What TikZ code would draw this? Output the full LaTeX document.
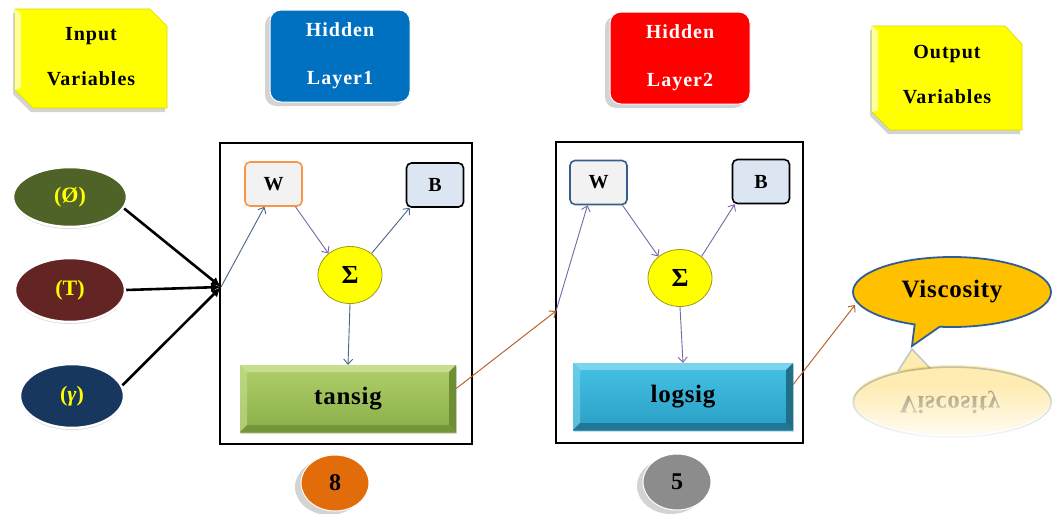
\documentclass[tikz,border=0pt]{standalone}
\usepackage{fontspec}
\setmainfont{Liberation Serif}
\newfontfamily\spacedfont[LetterSpace=5]{Liberation Serif}
\newfontfamily\lspacedfont[LetterSpace=3]{Liberation Serif}
\usetikzlibrary{shapes.geometric,shapes.callouts,arrows.meta,shadows,fadings,calc}
\definecolor{ylw}{HTML}{FFFF00}
\definecolor{ylwlight}{HTML}{FFFF99}
\definecolor{ylwdark}{HTML}{D9D900}
\definecolor{hblue}{HTML}{0070C0}
\definecolor{hred}{HTML}{FF0000}
\definecolor{egreen}{HTML}{4F6228}
\definecolor{ered}{HTML}{632523}
\definecolor{eblue}{HTML}{17375E}
\definecolor{wfill}{HTML}{F2F2F2}
\definecolor{bfill}{HTML}{DCE6F2}
\definecolor{worange}{HTML}{F79646}
\definecolor{wblue}{HTML}{385D8A}
\definecolor{sumbd}{HTML}{9B9B1E}
\definecolor{arrblue}{HTML}{4A6486}
\definecolor{arrpurp}{HTML}{7A64A6}
\definecolor{arrbrown}{HTML}{B8642E}
\definecolor{visfill}{HTML}{FFC000}
\definecolor{visbd}{HTML}{2F5E94}
\definecolor{gtop}{HTML}{B0D06A}
\definecolor{gbot}{HTML}{8AAE48}
\definecolor{glight}{HTML}{C6DE8E}
\definecolor{gdark}{HTML}{6E8E34}
\definecolor{ctop}{HTML}{45C2E6}
\definecolor{cbot}{HTML}{2A9EC4}
\definecolor{clight}{HTML}{7AD4EE}
\definecolor{cdark}{HTML}{1F6E8A}
\definecolor{borange}{HTML}{E36C0A}
\definecolor{bgray}{HTML}{8C8C8C}
\newcommand\mybevel[2]{%
 \fill[#1] (path picture bounding box.north west) -- (path picture bounding box.north east)
   -- ([shift={(-7pt,-7pt)}]path picture bounding box.north east) -- ([shift={(7pt,-7pt)}]path picture bounding box.north west) -- cycle;
 \fill[#1,opacity=.6] (path picture bounding box.north west) -- (path picture bounding box.south west)
   -- ([shift={(7pt,7pt)}]path picture bounding box.south west) -- ([shift={(7pt,-7pt)}]path picture bounding box.north west) -- cycle;
 \fill[#2] (path picture bounding box.north east) -- (path picture bounding box.south east)
   -- ([shift={(-7pt,7pt)}]path picture bounding box.south east) -- ([shift={(-7pt,-7pt)}]path picture bounding box.north east) -- cycle;
 \fill[#2,opacity=.8] (path picture bounding box.south west) -- (path picture bounding box.south east)
   -- ([shift={(-7pt,7pt)}]path picture bounding box.south east) -- ([shift={(7pt,7pt)}]path picture bounding box.south west) -- cycle;
}
\tikzset{
  yshape/.style={fill=ylw, draw=ylwdark, line width=.6pt,
    drop shadow={shadow xshift=-2pt, shadow yshift=-4pt, opacity=.35}},
  ytext/.style={rectangle, align=center, font=\fontsize{20}{45}\spacedfont\bfseries},
  hbox/.style={rectangle, rounded corners=11pt, minimum width=140pt, minimum height=92pt, align=center,
    text=white, draw=white, line width=1pt, font=\fontsize{20}{48}\spacedfont\bfseries,
    drop shadow={shadow xshift=-5pt, shadow yshift=-4pt, opacity=.35}},
  inp/.style={ellipse, draw=white, line width=2.5pt, text=ylw, font=\fontsize{22}{22}\selectfont\bfseries,
    drop shadow={shadow xshift=0pt, shadow yshift=-2pt, opacity=.3}},
  layer/.style={draw=black, line width=2pt, rectangle},
  wbox/.style={rectangle, rounded corners=5pt, line width=1.6pt, fill=wfill, minimum width=57pt, minimum height=44pt,
    font=\fontsize{20}{20}\selectfont\bfseries},
  bbox/.style={rectangle, rounded corners=5pt, line width=1.6pt, draw=black, fill=bfill, minimum width=57pt, minimum height=44pt,
    font=\fontsize{20}{20}\selectfont\bfseries},
  sumnode/.style={ellipse, draw=sumbd, line width=.8pt, fill=ylw, minimum width=64pt, minimum height=57pt,
    font=\fontsize{26}{26}\selectfont\bfseries},
  bevelbox/.style n args={4}{rectangle, minimum width=216pt, minimum height=67pt, top color=#1, bottom color=#2,
    path picture={\mybevel{#3}{#4}}, font=\fontsize{25}{25}\lspacedfont\bfseries,
    drop shadow={shadow xshift=1pt, shadow yshift=-2pt, opacity=.3}},
  bigarrow/.style={draw=black, line width=2.6pt, -{Latex[length=10pt,width=9pt]}},
  thinarrow/.style={line width=.9pt, -{Straight Barb[length=5pt,width=9pt]}},
  brownarrow/.style={draw=arrbrown, line width=1pt, -{Straight Barb[length=5pt,width=9pt]}},
  bubble/.style={ellipse, draw=white, line width=1pt, minimum width=68pt, minimum height=56pt,
    font=\fontsize{24}{24}\selectfont\bfseries,
    drop shadow={shadow xshift=-6pt, shadow yshift=-4pt, opacity=.35}},
  viscall/.style={ellipse callout, draw=visbd, line width=1.8pt, fill=visfill, minimum width=198pt, minimum height=70pt,
    font=\fontsize{25}{25}\lspacedfont\bfseries}
}
\begin{document}
\begin{tikzpicture}[x=1pt,y=-1pt]
\useasboundingbox (0,0) rectangle (1053,514);

% header boxes
\path[yshape] (15,9) -- (150,9) -- (167,26) -- (167,108) -- (33,108) -- (15,90) -- cycle;
\fill[ylwlight] (15,9) -- (21,14) -- (21,88) -- (15,90) -- cycle;
\node[ytext] (inbox) at (91,57) {Input\\Variables};
\node[hbox, fill=hblue] (hl1) at (340,56) {Hidden\\Layer1};
\node[hbox, fill=hred] (hl2) at (680,58) {Hidden\\Layer2};
\path[yshape] (872,26) -- (1005,26) -- (1022,44) -- (1022,130) -- (890,130) -- (872,112) -- cycle;
\fill[ylwlight] (872,26) -- (878,31) -- (878,110) -- (872,112) -- cycle;
\node[ytext] (outbox) at (947,75) {Output\\Variables};

% input ellipses
\node[inp, fill=egreen, minimum width=114pt, minimum height=60pt] (e1) at (70,197) {(Ø)};
\node[inp, fill=ered, minimum width=110pt, minimum height=64pt] (e2) at (70,290) {(T)};
\node[inp, fill=eblue, minimum width=104pt, minimum height=64pt] (e3) at (72,396) {(\textit{γ})};

% layer frames
\node[layer, minimum width=252pt, minimum height=301pt] (h1) at (346,293) {};
\node[layer, minimum width=247pt, minimum height=301pt] (h2) at (679.5,292.5) {};
\coordinate (conv) at (221,287);
\coordinate (conv2) at (556,311);

% layer 1 content
\node[wbox, draw=worange] (w1) at (273.5,184) {W};
\node[bbox] (b1) at (435,185) {B};
\node[sumnode] (s1) at (350,275) {Σ};
\node[bevelbox={gtop}{gbot}{glight}{gdark}] (ts) at (348,398.5) {tansig};

% layer 2 content
\node[wbox, draw=wblue] (w2) at (598.5,182.5) {W};
\node[bbox] (b2) at (761,181.5) {B};
\node[sumnode] (s2) at (680,278) {Σ};
\node[bevelbox={ctop}{cbot}{clight}{cdark}, minimum width=220pt] (ls) at (683,396.5) {logsig};

% output callout and its reflection
\fill[visfill, opacity=.3] (952,400) ellipse [x radius=99, y radius=35];
\fill[visfill, opacity=.3] (898,372) -- (912,349) -- (930,369) -- cycle;
\draw[visbd, opacity=.3, line width=1.6pt] (898,371) -- (912,349) -- (930,368);
\draw[visbd, opacity=.3, line width=1.6pt] (930,368) arc [start angle=-103, end angle=257, x radius=99, y radius=35];
\node[yscale=-1, opacity=.35, font=\fontsize{25}{25}\lspacedfont\bfseries] (visr) at (950,402) {Viscosity};
\fill[white, path fading=north] (842,385) rectangle (1053,447);
\node[viscall, callout absolute pointer={(912,346)}] (vis) at (952,292) {Viscosity};
\coordinate (vtip) at (855,305);

% neuron count bubbles
\node[bubble, fill=borange] (n8) at (335,483) {8};
\node[bubble, fill=bgray] (n5) at (677,482) {5};

% connectors
\draw[bigarrow] (e1.-12) -- (conv);
\draw[bigarrow] (e2.east) -- (conv);
\draw[bigarrow] (e3.12) -- (conv);
\draw[thinarrow, draw=arrblue] (conv) -- ([xshift=-9pt]w1.south);
\draw[thinarrow, draw=arrpurp] ([xshift=22pt]w1.south) -- (s1.135);
\draw[thinarrow, draw=arrblue] (s1.45) -- ([xshift=4pt]b1.south west);
\draw[thinarrow, draw=arrblue] (s1.south) -- (ts.north);
\draw[brownarrow] ([yshift=10pt]ts.east) -- (conv2);
\draw[thinarrow, draw=arrpurp] (conv2) -- ([xshift=-11pt]w2.south);
\draw[thinarrow, draw=arrpurp] ([xshift=24pt]w2.south) -- (s2.135);
\draw[thinarrow, draw=arrpurp] (s2.45) -- ([xshift=3pt]b2.south west);
\draw[thinarrow, draw=arrpurp] (s2.south) -- (ls.north);
\draw[brownarrow] ([yshift=12pt]ls.east) -- (vtip);
\end{tikzpicture}
\end{document}
